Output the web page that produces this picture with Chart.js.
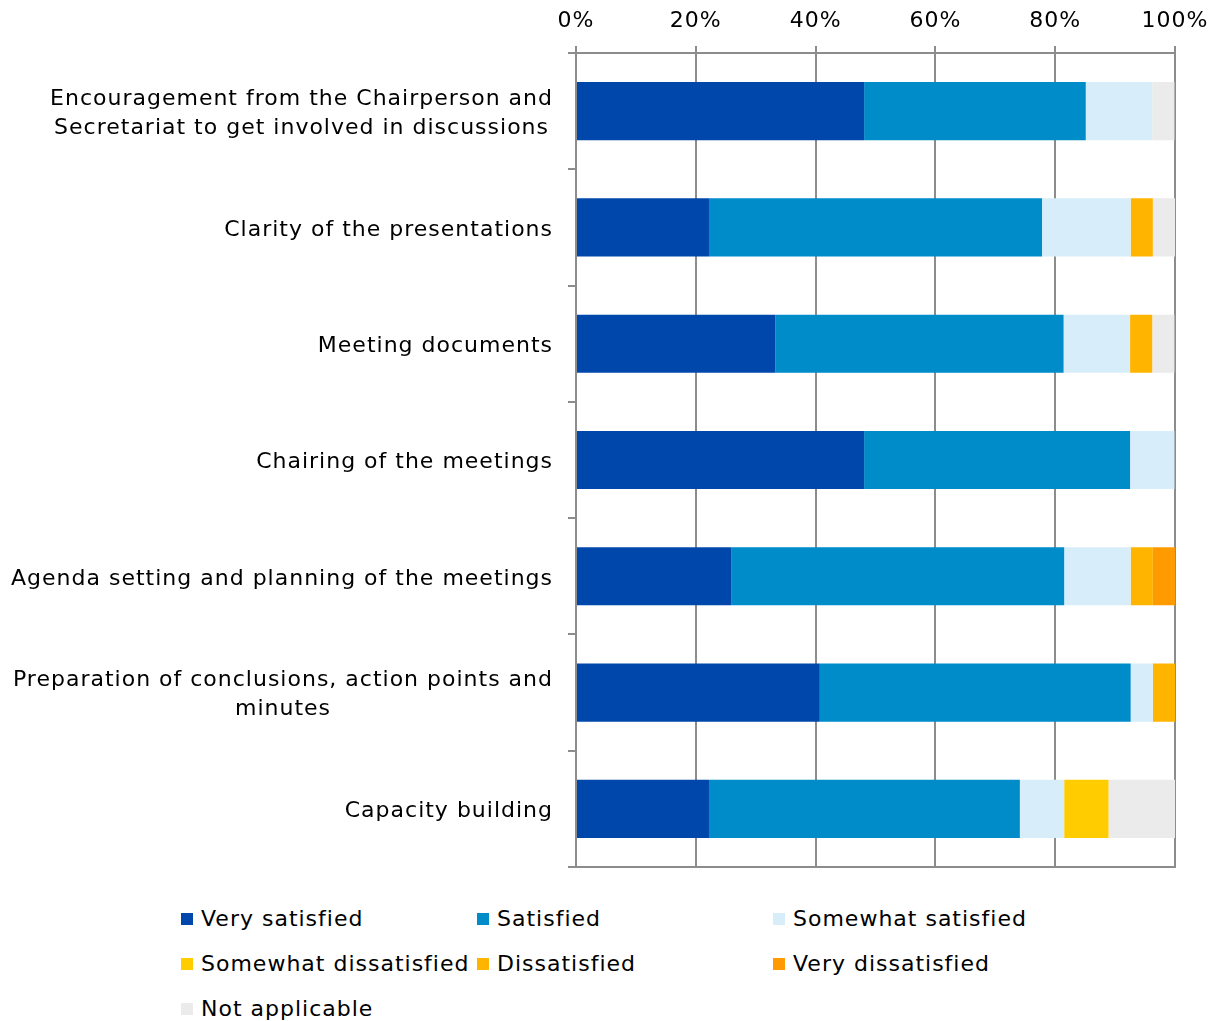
<!DOCTYPE html>
<html>
<head>
<meta charset="utf-8">
<script src="https://cdn.jsdelivr.net/npm/chart.js@4/dist/chart.umd.min.js"></script>
<style>
  html, body { margin: 0; padding: 0; background: #fff; }
  #wrap { position: relative; width: 1222px; height: 880px; }
  #legend {
    display: grid;
    grid-template-columns: 296px 296px 296px;
    grid-auto-rows: 45px;
    margin-left: 181px;
    padding-top: 16px;
    font-family: "DejaVu Sans", Verdana, sans-serif;
    font-size: 22px;
    letter-spacing: 1px;
    color: #000;
  }
  .li { display: flex; align-items: center; white-space: nowrap; }
  .sw { width: 12px; height: 12px; margin-right: 8px; flex: none; }
</style>
</head>
<body>
<div id="wrap"><canvas id="c"></canvas></div>
<div id="legend"></div>
<script>
// ---- data ----
const categories = [
  ["Encouragement from the Chairperson and", "Secretariat to get involved in discussions"],
  "Clarity of the presentations",
  "Meeting documents",
  "Chairing of the meetings",
  "Agenda setting and planning of the meetings",
  ["Preparation of conclusions, action points and", "minutes"],
  "Capacity building"
];
const seriesNames = ["Very satisfied", "Satisfied", "Somewhat satisfied", "Somewhat dissatisfied", "Dissatisfied", "Very dissatisfied", "Not applicable"];
const verySatisfied        = [48.1, 22.2, 33.3, 48.1, 25.9, 40.7, 22.2];
const satisfied            = [37.0, 55.6, 48.1, 44.4, 55.6, 51.9, 51.9];
const somewhatSatisfied    = [11.1, 14.8, 11.1, 7.4, 11.1, 3.7, 7.4];
const somewhatDissatisfied = [0, 0, 0, 0, 0, 0, 7.4];
const dissatisfied         = [0, 3.7, 3.7, 0, 3.7, 3.7, 0];
const veryDissatisfied     = [0, 0, 0, 0, 3.7, 0, 0];
const notApplicable        = [3.7, 3.7, 3.7, 0, 0, 0, 11.1];
const tickValues = [0, 20, 40, 60, 80, 100];

// ---- styles ----
const colors = ["#0047AB", "#008BC9", "#D7EEFA", "#FFCC00", "#FFB400", "#FF9A00", "#EBEBEB"];
const FONT_FAMILY = '"DejaVu Sans", Verdana, sans-serif';
const FONT_SIZE = 22;
const AXIS_GRAY = "#8C8C8C";

const seriesValues = [verySatisfied, satisfied, somewhatSatisfied, somewhatDissatisfied, dissatisfied, veryDissatisfied, notApplicable];
const datasets = seriesNames.map((name, i) => ({
  label: name,
  data: seriesValues[i],
  backgroundColor: colors[i],
  borderWidth: 0,
  categoryPercentage: 0.5,
  barPercentage: 1.0
}));

const Y_TICK_LEN = 8;
const LABEL_GAP = 15;
const LINE_H = 29;
const LABEL_DY = 2.5;

const spacingPlugin = {
  id: 'spacing',
  beforeDraw(chart) { chart.ctx.letterSpacing = '1px'; }
};

const yLabelPlugin = {
  id: 'yLabels',
  afterDraw(chart) {
    const s = chart.scales.y;
    const ctx = chart.ctx;
    ctx.save();
    ctx.font = FONT_SIZE + 'px ' + FONT_FAMILY;
    ctx.letterSpacing = '1px';
    ctx.fillStyle = '#000';
    ctx.textBaseline = 'middle';
    ctx.textAlign = 'center';
    categories.forEach((lab, i) => {
      const lines = Array.isArray(lab) ? lab : [lab];
      const w = Math.max(...lines.map(l => ctx.measureText(l).width));
      const cx = s.right - Y_TICK_LEN - LABEL_GAP - w / 2;
      const y0 = s.getPixelForValue(i) + LABEL_DY;
      lines.forEach((l, j) => ctx.fillText(l, cx, y0 + (j - (lines.length - 1) / 2) * LINE_H));
    });
    ctx.restore();
  }
};

const chart = new Chart(document.getElementById('c'), {
  type: 'bar',
  data: { labels: categories, datasets },
  plugins: [spacingPlugin, yLabelPlugin],
  options: {
    indexAxis: 'y',
    responsive: true,
    maintainAspectRatio: false,
    animation: false,
    layout: { padding: { top: 0, right: 47, bottom: 13, left: 0 } },
    plugins: { legend: { display: false }, tooltip: { enabled: false } },
    scales: {
      x: {
        type: 'linear',
        position: 'top',
        stacked: true,
        min: 0, max: 100,
        afterBuildTicks(scale) { scale.ticks = tickValues.map(v => ({ value: v })); },
        afterFit(scale) { scale.height = 53; },
        ticks: {
          callback: v => v + '%',
          font: { family: FONT_FAMILY, size: FONT_SIZE },
          color: '#000',
          padding: 12,
          maxRotation: 0
        },
        grid: { color: AXIS_GRAY, lineWidth: 2, tickLength: 7, drawTicks: true },
        border: { display: true, color: AXIS_GRAY, width: 2 }
      },
      x2: {
        type: 'linear',
        position: 'bottom',
        min: 0, max: 100,
        ticks: { display: false },
        grid: { display: false, drawTicks: false },
        border: { display: true, color: AXIS_GRAY, width: 2 }
      },
      y: {
        type: 'category',
        stacked: true,
        ticks: { display: false },
        grid: { offset: true, drawOnChartArea: false, drawTicks: true, tickLength: Y_TICK_LEN, color: AXIS_GRAY, lineWidth: 2 },
        border: { display: true, color: AXIS_GRAY, width: 2 },
        afterFit(scale) { scale.width = 576; }
      }
    }
  }
});

// HTML legend built from the chart's datasets
const legendEl = document.getElementById('legend');
chart.data.datasets.forEach(ds => {
  const item = document.createElement('div');
  item.className = 'li';
  const sw = document.createElement('span');
  sw.className = 'sw';
  sw.style.background = ds.backgroundColor;
  const t = document.createElement('span');
  t.textContent = ds.label;
  item.appendChild(sw);
  item.appendChild(t);
  legendEl.appendChild(item);
});
</script>
</body>
</html>
